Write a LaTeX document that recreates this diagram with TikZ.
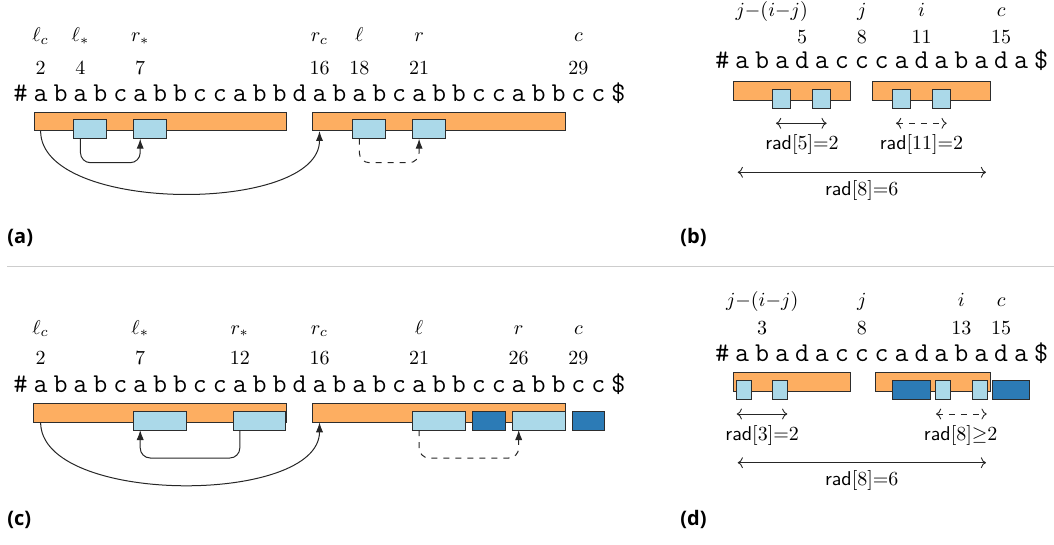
\documentclass[tikz,border=0pt]{standalone}
\usepackage{fontspec}
\newfontfamily\capfont{Open Sans}
\usetikzlibrary{arrows.meta}
\definecolor{orng}{RGB}{253,174,97}
\definecolor{lblue}{RGB}{171,217,233}
\definecolor{dblue}{RGB}{44,123,182}
\definecolor{edgec}{RGB}{45,45,45}
\definecolor{sepc}{RGB}{205,205,205}
\newcommand\PA[1]{0.78+19.92*#1}
\newcommand\PB[1]{702.4+19.92*#1}
\tikzset{
  obar/.style={fill=orng,draw=edgec,line width=0.5pt},
  lbox/.style={fill=lblue,draw=edgec,line width=0.5pt},
  dbox/.style={fill=dblue,draw=edgec,line width=0.5pt},
  sym/.style={anchor=base,inner sep=0pt,font=\normalsize},
  num/.style={anchor=base,inner sep=0pt,font=\normalsize},
  chr/.style={anchor=base,inner sep=0pt,font=\fontsize{13.6}{16}\selectfont\ttfamily},
  radl/.style={inner sep=0pt,font=\normalsize},
  capl/.style={anchor=base west,inner sep=0pt,font=\capfont\bfseries},
  tip/.style={-{Latex[length=5pt,width=3.6pt]}},
  conn/.style={line width=0.5pt,draw=black!85},
  harr/.style={line width=0.45pt,draw=black!85,<->},
}
\begin{document}
\begin{tikzpicture}[x=0.5pt,y=-0.5pt]
\useasboundingbox (0,0) rectangle (1054,545);

% ================= panel (a)
\node[sym] (aLc) at ({\PA{2}},41.5) {$\ell_c$};
\node[sym] (aLs) at ({\PA{4}},41.5) {$\ell_*$};
\node[sym] (aRs) at ({\PA{7}},41.5) {$r_*$};
\node[sym] (aRc) at ({\PA{16}},41.5) {$r_c$};
\node[sym] (aL) at ({\PA{18}},41.5) {$\ell$};
\node[sym] (aR) at ({\PA{21}},41.5) {$r$};
\node[sym] (aC) at ({\PA{29}},41.5) {$c$};
\node[num] (an2) at ({\PA{2}},75) {2};
\node[num] (an4) at ({\PA{4}},75) {4};
\node[num] (an7) at ({\PA{7}},75) {7};
\node[num] (an16) at ({\PA{16}},75) {16};
\node[num] (an18) at ({\PA{18}},75) {18};
\node[num] (an21) at ({\PA{21}},75) {21};
\node[num] (an29) at ({\PA{29}},75) {29};
\foreach \ch [count=\p] in {\#,a,b,a,b,c,a,b,b,c,c,a,b,b,d,a,b,a,b,c,a,b,b,c,c,a,b,b,c,c,\$}
  \node[chr] (sa\p) at ({\PA{\p}},101.5) {\ch};
\draw[obar] (34,112.3) rectangle (286,131);
\draw[obar] (312.7,112.3) rectangle (565,131);
\draw[lbox] (73.3,119.3) rectangle (106.7,138.7);
\draw[lbox] (133.3,119.3) rectangle (166.7,138.7);
\draw[lbox] (352.7,119.3) rectangle (385.7,138.7);
\draw[lbox] (412.3,119.3) rectangle (445.7,138.7);
\coordinate (aS1) at ({\PA{4}},138.7);
\coordinate (aE1) at ({\PA{7}},138.7);
\coordinate (aS2) at ({\PA{2}},131);
\coordinate (aE2) at ({\PA{16}},131);
\coordinate (aS3) at ({\PA{18}},138.7);
\coordinate (aE3) at ({\PA{21}},138.7);
\draw[conn,tip,rounded corners=5pt] (aS1) -- ++(0,24) -| (aE1);
\draw[conn,tip] (aS2) .. controls +(0,83) and +(0,83) .. (aE2);
\draw[conn,tip,dashed,rounded corners=5pt] (aS3) -- ++(0,24) -| (aE3);
\node[capl] (capa) at (7,243.5) {(a)};

% ================= panel (b)
\node[sym] (bJ2) at (771.7,17) {$j{-}(i{-}j)$};
\node[sym] (bJ) at ({\PB{8}},17) {$j$};
\node[sym] (bI) at ({\PB{11}},17) {$i$};
\node[sym] (bC) at ({\PB{15}},17) {$c$};
\node[num] (bn5) at ({\PB{5}},43.5) {5};
\node[num] (bn8) at ({\PB{8}},43.5) {8};
\node[num] (bn11) at ({\PB{11}},43.5) {11};
\node[num] (bn15) at ({\PB{15}},43.5) {15};
\foreach \ch [count=\p] in {\#,a,b,a,d,a,c,c,c,a,d,a,b,a,d,a,\$}
  \node[chr] (sb\p) at ({\PB{\p}},69) {\ch};
\draw[obar] (733.3,81.7) rectangle (850.7,100.7);
\draw[obar] (872.7,81.7) rectangle (990,100.7);
\draw[lbox] (772.7,89.3) rectangle (790.7,108.3);
\draw[lbox] (812.7,89.3) rectangle (830.7,108.3);
\draw[lbox] (892.3,89.3) rectangle (910.3,108.3);
\draw[lbox] (932.3,89.3) rectangle (950.3,108.3);
\coordinate (bA1) at (776,123.3);
\coordinate (bB1) at (826.7,123.3);
\coordinate (bA2) at (896,123.3);
\coordinate (bB2) at (946.7,123.3);
\coordinate (bA3) at (737.7,172.3);
\coordinate (bB3) at (986,172.3);
\draw[harr] (bA1) -- (bB1);
\draw[harr,dashed] (bA2) -- (bB2);
\draw[harr] (bA3) -- (bB3);
\node[radl] (br5) at ({\PB{5}},145) {\textsf{rad}$[5]{=}2$};
\node[radl] (br11) at ({\PB{11}},145) {\textsf{rad}$[11]{=}2$};
\node[radl] (br8) at ({\PB{8}},190.7) {\textsf{rad}$[8]{=}6$};
\node[capl] (capb) at (680,243.5) {(b)};

% separator
\coordinate (sepL) at (7,266.5);
\coordinate (sepR) at (1054,266.5);
\draw[sepc,line width=0.6pt] (sepL) -- (sepR);

% ================= panel (c)
\node[sym] (cLc) at ({\PA{2}},334) {$\ell_c$};
\node[sym] (cLs) at ({\PA{7}},334) {$\ell_*$};
\node[sym] (cRs) at ({\PA{12}},334) {$r_*$};
\node[sym] (cRc) at ({\PA{16}},334) {$r_c$};
\node[sym] (cL) at ({\PA{21}},334) {$\ell$};
\node[sym] (cR) at ({\PA{26}},334) {$r$};
\node[sym] (cC) at ({\PA{29}},334) {$c$};
\node[num] (cn2) at ({\PA{2}},364) {2};
\node[num] (cn7) at ({\PA{7}},364) {7};
\node[num] (cn12) at ({\PA{12}},364) {12};
\node[num] (cn16) at ({\PA{16}},364) {16};
\node[num] (cn21) at ({\PA{21}},364) {21};
\node[num] (cn26) at ({\PA{26}},364) {26};
\node[num] (cn29) at ({\PA{29}},364) {29};
\foreach \ch [count=\p] in {\#,a,b,a,b,c,a,b,b,c,c,a,b,b,d,a,b,a,b,c,a,b,b,c,c,a,b,b,c,c,\$}
  \node[chr] (sc\p) at ({\PA{\p}},392.7) {\ch};
\draw[obar] (33.3,403.3) rectangle (286,422.3);
\draw[obar] (312.7,403.3) rectangle (565,422.3);
\draw[lbox] (133.3,411) rectangle (186,430);
\draw[lbox] (233.3,411) rectangle (285.7,430);
\draw[lbox] (412.3,411) rectangle (465.7,430);
\draw[dbox] (472.3,411) rectangle (505,430);
\draw[lbox] (512.3,411) rectangle (565,430);
\draw[dbox] (572.3,411) rectangle (604.3,430);
\coordinate (cS1) at ({\PA{12}},430);
\coordinate (cE1) at ({\PA{7}},430);
\coordinate (cS2) at ({\PA{2}},422.3);
\coordinate (cE2) at ({\PA{16}},422.3);
\coordinate (cS3) at ({\PA{21}},430);
\coordinate (cE3) at ({\PA{26}},430);
\draw[conn,tip,rounded corners=5pt] (cS1) -- ++(0,28) -| (cE1);
\draw[conn,tip] (cS2) .. controls +(0,83) and +(0,83) .. (cE2);
\draw[conn,tip,dashed,rounded corners=5pt] (cS3) -- ++(0,28) -| (cE3);
\node[capl] (capc) at (7,525) {(c)};

% ================= panel (d)
\node[sym] (dJ2) at ({\PB{3}},306.7) {$j{-}(i{-}j)$};
\node[sym] (dJ) at ({\PB{8}},306.7) {$j$};
\node[sym] (dI) at ({\PB{13}},306.7) {$i$};
\node[sym] (dC) at ({\PB{15}},306.7) {$c$};
\node[num] (dn3) at ({\PB{3}},334) {3};
\node[num] (dn8) at ({\PB{8}},334) {8};
\node[num] (dn13) at ({\PB{13}},334) {13};
\node[num] (dn15) at ({\PB{15}},334) {15};
\foreach \ch [count=\p] in {\#,a,b,a,d,a,c,c,c,a,d,a,b,a,d,a,\$}
  \node[chr] (sd\p) at ({\PB{\p}},361.7) {\ch};
\draw[obar] (733.3,372.7) rectangle (850.7,391.7);
\draw[obar] (875.7,372.7) rectangle (990,391.7);
\draw[lbox] (736,380) rectangle (751,399);
\draw[lbox] (772.7,380) rectangle (787.7,399);
\draw[dbox] (892.3,380) rectangle (930.7,399);
\draw[lbox] (935.7,380) rectangle (950.7,399);
\draw[lbox] (972.3,380) rectangle (987.3,399);
\draw[dbox] (992.3,380) rectangle (1029,399);
\coordinate (dA1) at (736.7,414);
\coordinate (dB1) at (787.3,414);
\coordinate (dA2) at (936,414);
\coordinate (dB2) at (986.7,414);
\coordinate (dA3) at (737.7,462.7);
\coordinate (dB3) at (986,462.7);
\draw[harr] (dA1) -- (dB1);
\draw[harr,dashed] (dA2) -- (dB2);
\draw[harr] (dA3) -- (dB3);
\node[radl] (dr3) at ({\PB{3}},435.7) {\textsf{rad}$[3]{=}2$};
\node[radl] (dr8) at (960.7,435.7) {\textsf{rad}$[8]{\geq}2$};
\node[radl] (dr8b) at ({\PB{8}},480.7) {\textsf{rad}$[8]{=}6$};
\node[capl] (capd) at (680,525) {(d)};
\end{tikzpicture}
\end{document}
